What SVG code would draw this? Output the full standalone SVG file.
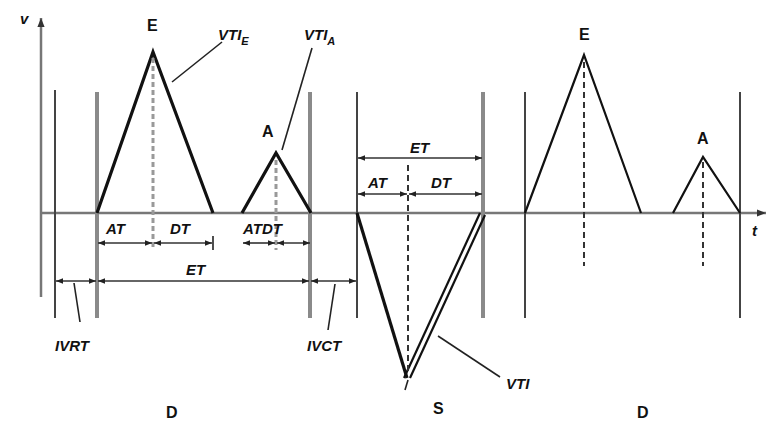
<svg xmlns="http://www.w3.org/2000/svg" width="767" height="424" viewBox="0 0 767 424">
<defs>
<style>
.ax{stroke:#777;stroke-width:2.5;fill:none}
.thin{stroke:#444;stroke-width:2;fill:none}
.gray{stroke:#8a8a8a;stroke-width:4;fill:none}
.wave{stroke:#111;stroke-width:3.2;fill:none;stroke-linejoin:miter}
.wave2{stroke:#111;stroke-width:2.2;fill:none}
.dash{stroke:#333;stroke-width:2;stroke-dasharray:6 4;fill:none}
.dash2{stroke:#999;stroke-width:3;stroke-dasharray:5 3;fill:none}
.dim{stroke:#333;stroke-width:1.6;fill:none;marker-start:url(#al);marker-end:url(#ar)}
.lead{stroke:#222;stroke-width:1.6;fill:none}
text{font-family:"Liberation Sans",Arial,sans-serif;fill:#111;font-weight:bold}
.lab{font-size:15px;font-style:italic}
.pk{font-size:16px}
</style>
<marker id="ar" viewBox="0 0 10 10" refX="10" refY="5" markerWidth="7" markerHeight="7" markerUnits="userSpaceOnUse" orient="auto"><path d="M0,1 L10,5 L0,9 z" fill="#222"/></marker>
<marker id="al" viewBox="0 0 10 10" refX="0" refY="5" markerWidth="7" markerHeight="7" markerUnits="userSpaceOnUse" orient="auto"><path d="M10,1 L0,5 L10,9 z" fill="#222"/></marker>
<marker id="axar" viewBox="0 0 10 10" refX="10" refY="5" markerWidth="9" markerHeight="9" markerUnits="userSpaceOnUse" orient="auto"><path d="M0,1 L10,5 L0,9 z" fill="#333"/></marker>
</defs>
<g id="axes">
<line class="ax" x1="41" y1="297" x2="41" y2="18" marker-end="url(#axar)"/>
<line class="ax" x1="41" y1="213" x2="766" y2="213" marker-end="url(#axar)"/>
<text x="20" y="24" class="lab">v</text>
<text x="752" y="236" class="lab">t</text>
</g>
<g id="boundaries">
<line class="thin" x1="55" y1="90" x2="55" y2="318"/>
<line class="gray" x1="97" y1="92" x2="97" y2="318"/>
<line class="gray" x1="310" y1="92" x2="310" y2="318"/>
<line class="thin" x1="357" y1="92" x2="357" y2="318"/>
<line class="gray" x1="483" y1="92" x2="483" y2="318"/>
<line class="thin" x1="525" y1="92" x2="525" y2="318"/>
<line class="thin" x1="740" y1="92" x2="740" y2="318"/>
</g>
<g id="wave-E1">
<polyline class="wave" points="97,213 153,52 213,213"/>
<line class="dash2" x1="153" y1="58" x2="153" y2="250"/>
<text x="147" y="31" class="pk">E</text>
</g>
<g id="wave-A1">
<polyline class="wave" points="242,213 276,153 311,213"/>
<line class="dash2" x1="276" y1="160" x2="276" y2="250"/>
<text x="262" y="137" class="pk">A</text>
</g>
<g id="wave-S">
<polyline class="wave" points="357,213 407,378"/>
<line class="wave2" x1="404" y1="378" x2="480" y2="213"/>
<line class="wave2" x1="410" y1="378" x2="485" y2="215"/>
<line class="dash" x1="408" y1="165" x2="408" y2="375"/>
<line class="lead" x1="408" y1="380" x2="405" y2="390"/>
</g>
<g id="wave-D2">
<polyline class="wave2" points="525,213 584,55 641,213"/>
<line class="dash" x1="584" y1="62" x2="584" y2="266"/>
<text x="579" y="40" class="pk">E</text>
<polyline class="wave2" points="673,213 703,157 740,213"/>
<line class="dash" x1="703" y1="162" x2="703" y2="266"/>
<text x="697" y="144" class="pk">A</text>
</g>
<g id="connectors">
<line class="dim" x1="98" y1="243" x2="152" y2="243"/>
<line class="dim" x1="154" y1="243" x2="212" y2="243"/>
<line class="lead" x1="213" y1="236" x2="213" y2="250"/>
<line class="dim" x1="243" y1="243" x2="275" y2="243"/>
<line class="dim" x1="277" y1="243" x2="310" y2="243"/>
<line class="dim" x1="56" y1="281" x2="96" y2="281"/>
<line class="dim" x1="98" y1="281" x2="309" y2="281"/>
<line class="dim" x1="311" y1="281" x2="356" y2="281"/>
<line class="dim" x1="358" y1="158" x2="482" y2="158"/>
<line class="dim" x1="358" y1="194" x2="407" y2="194"/>
<line class="dim" x1="409" y1="194" x2="482" y2="194"/>
<line class="lead" x1="172" y1="82" x2="222" y2="42"/>
<line class="lead" x1="282" y1="150" x2="312" y2="48"/>
<line class="lead" x1="74" y1="283" x2="80" y2="322"/>
<line class="lead" x1="335" y1="284" x2="328" y2="330"/>
<line class="lead" x1="438" y1="336" x2="500" y2="377"/>
</g>
<g id="labels">
<text x="218" y="40" class="lab">VTI<tspan font-size="11" dy="5">E</tspan></text>
<text x="304" y="40" class="lab">VTI<tspan font-size="11" dy="5">A</tspan></text>
<text x="106" y="234" class="lab">AT</text>
<text x="170" y="234" class="lab">DT</text>
<text x="243" y="234" class="lab" font-size="14">ATDT</text>
<text x="186" y="275" class="lab">ET</text>
<text x="55" y="351" class="lab">IVRT</text>
<text x="307" y="351" class="lab">IVCT</text>
<text x="410" y="153" class="lab">ET</text>
<text x="368" y="188" class="lab">AT</text>
<text x="431" y="188" class="lab">DT</text>
<text x="506" y="389" class="lab">VTI</text>
<text x="166" y="418" class="pk">D</text>
<text x="433" y="414" class="pk">S</text>
<text x="637" y="418" class="pk">D</text>
</g>
</svg>
